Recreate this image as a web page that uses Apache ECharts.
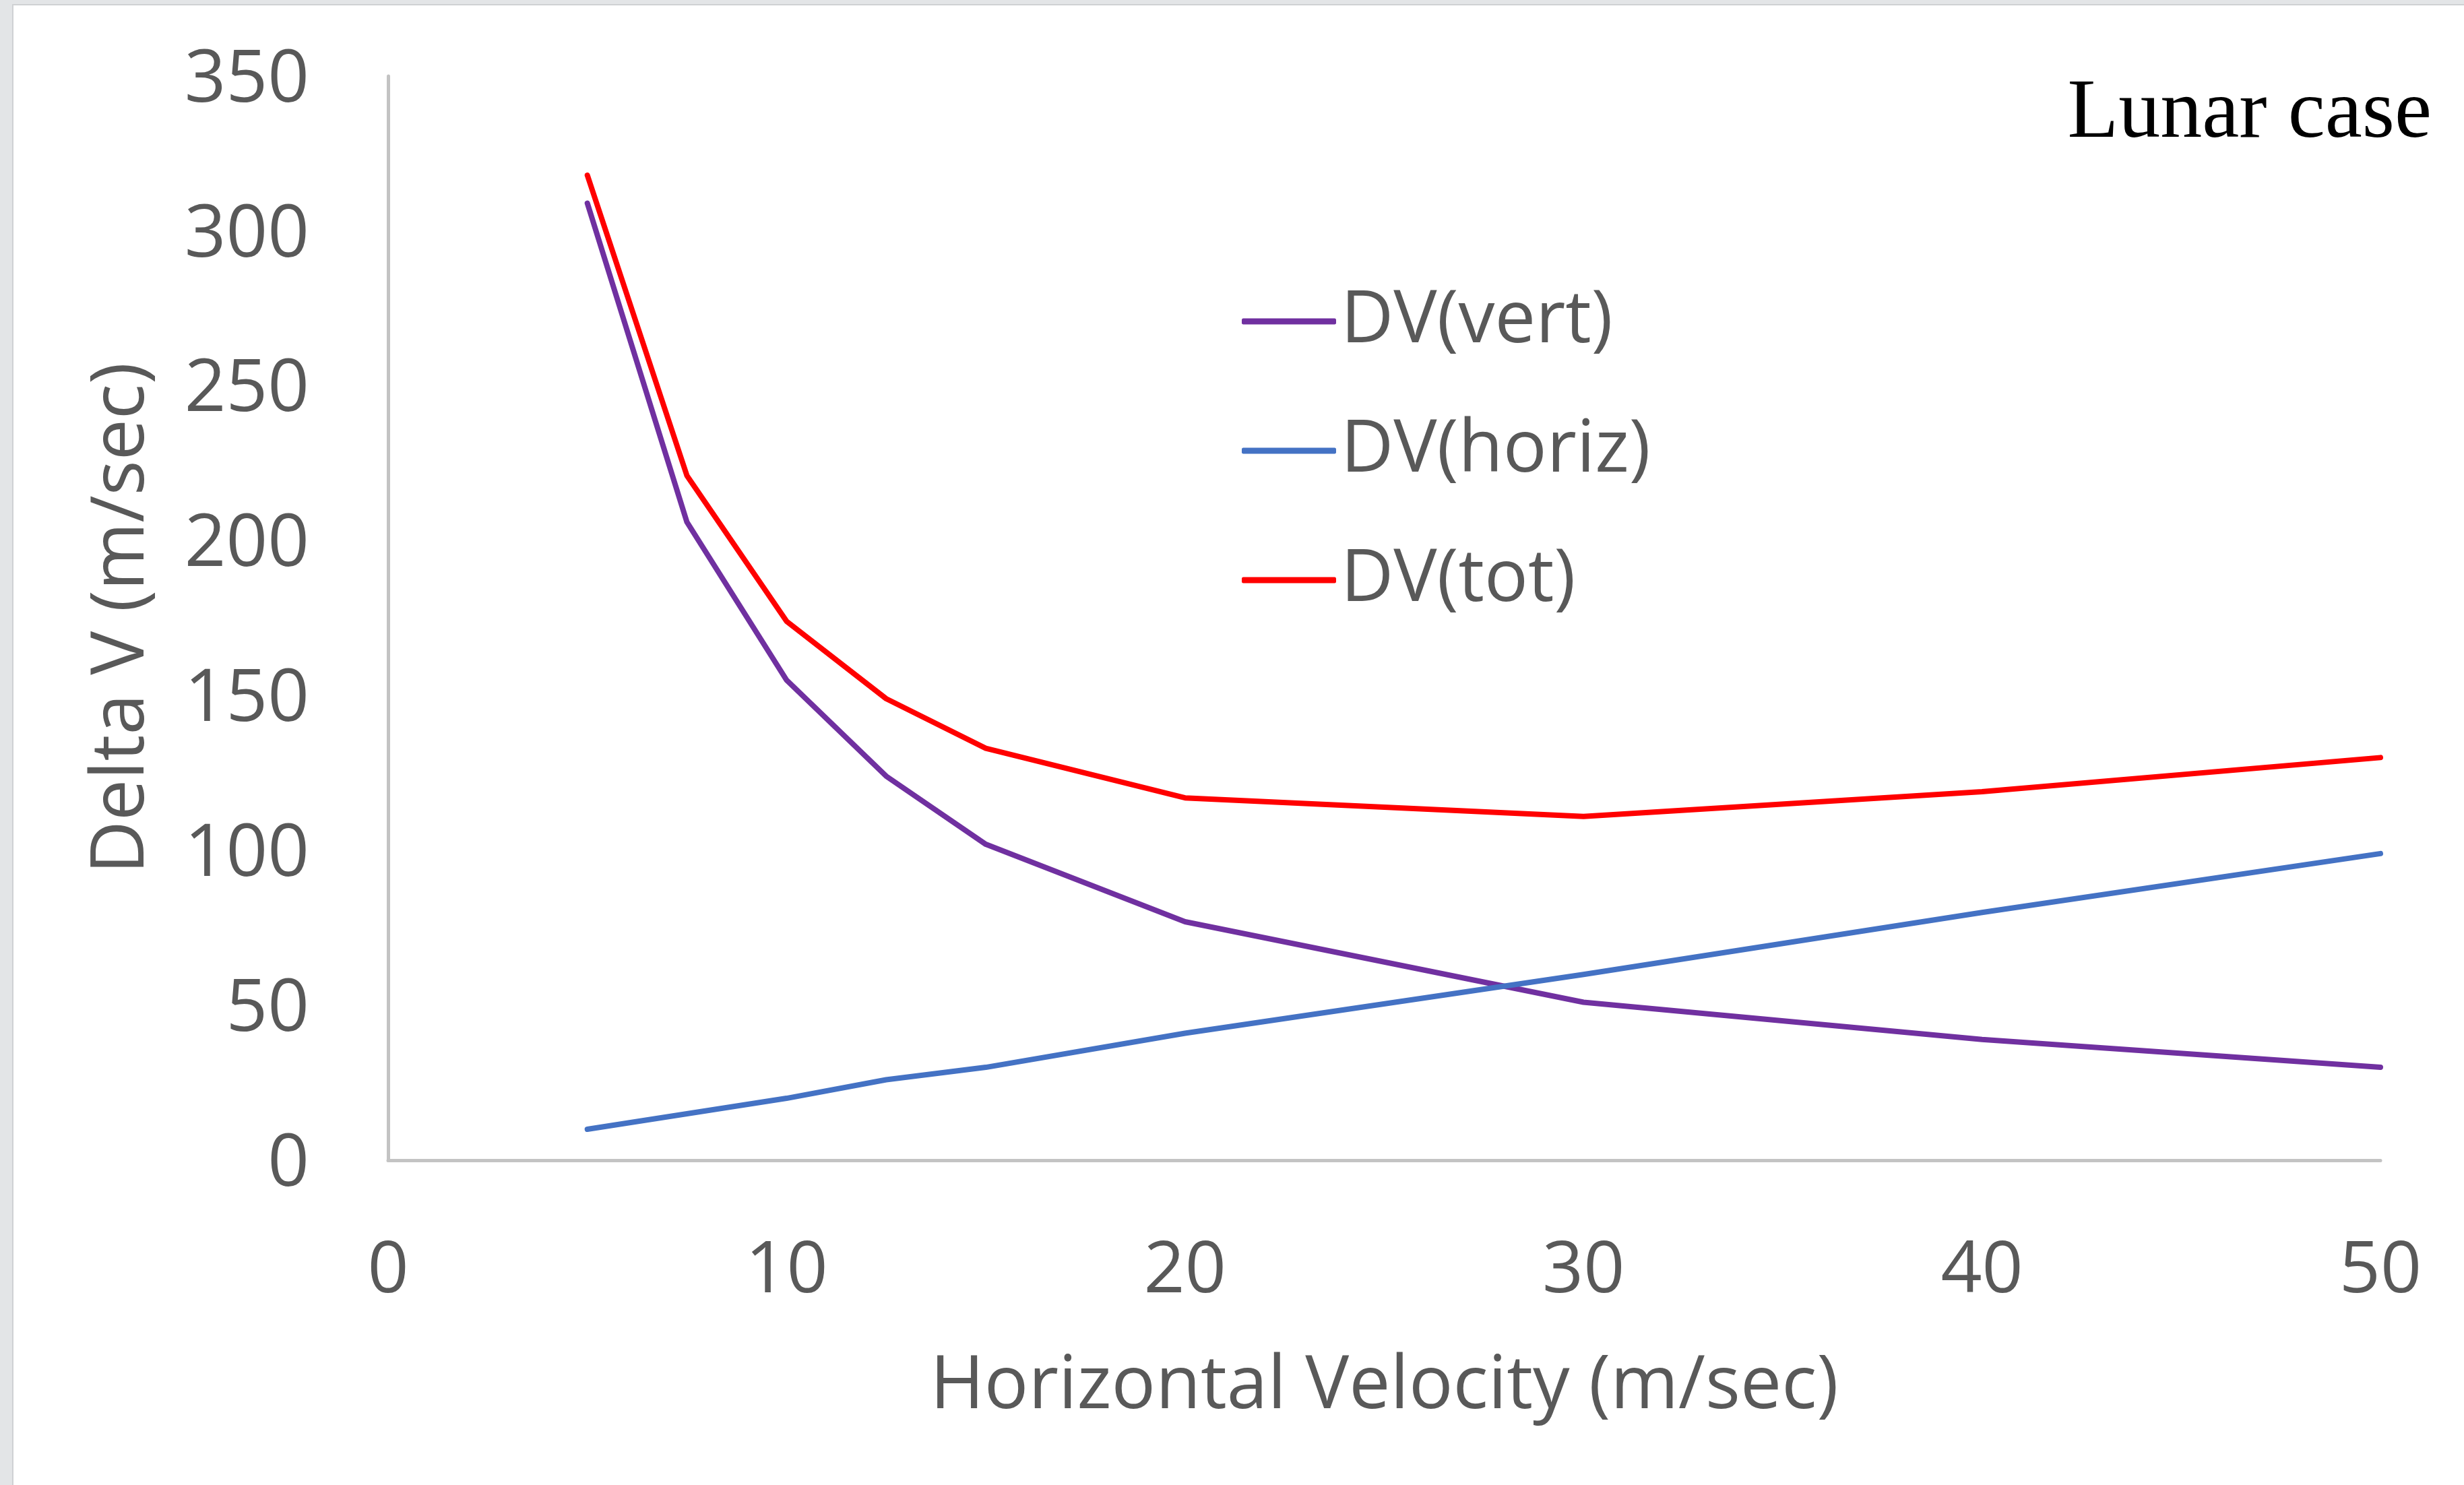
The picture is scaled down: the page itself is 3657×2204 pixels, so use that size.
<!DOCTYPE html>
<html>
<head>
<meta charset="utf-8">
<title>Lunar case</title>
<script src="https://cdn.jsdelivr.net/npm/echarts@6.0.0/dist/echarts.min.js"></script>
<style>
  html, body { margin: 0; padding: 0; }
  body { width: 3657px; height: 2204px; background: #e3e5e7; position: relative; overflow: hidden; }
  .panel { position: absolute; left: 18px; top: 6px; right: -4px; bottom: -4px; background: #fff; border: 2px solid #cfd1d3; }
  #chart { position: absolute; left: 0; top: 0; width: 3657px; height: 2204px; }
</style>
</head>
<body>
<div class="panel"></div>
<div id="chart"></div>
<script>
// horizontal velocity (m/sec)
const hVel = [5, 7.5, 10, 12.5, 15, 20, 30, 40, 50]
// delta V components (m/sec)
const dvVert = [309, 206, 155, 124, 102, 77, 51, 39, 30]
const dvHoriz = [10, 15, 20, 26, 30, 41, 60, 80, 99]
const dvTot = [318, 221, 174, 149, 133, 117, 111, 119, 130]

const seriesNames = ['DV(vert)', 'DV(horiz)', 'DV(tot)']
const seriesColors = ['#7030A0', '#4472C4', '#FF0000']

const textColor = '#595959'
const fontFamily = '"Open Sans", "Noto Sans", sans-serif'

const chart = echarts.init(document.getElementById('chart'))

const pairs = ys => hVel.map((x, i) => [x, ys[i]])

const makeSeries = (name, ys, color) => ({
  name: name,
  type: 'line',
  data: pairs(ys),
  symbol: 'none',
  smooth: false,
  lineStyle: { color: color, width: 8, cap: 'round', join: 'round' },
  itemStyle: { color: color },
  emphasis: { disabled: true }
})

const option = {
  animation: false,
  backgroundColor: 'transparent',
  grid: {
    left: 576,
    right: 124,
    top: 113,
    bottom: 482,
    containLabel: false
  },
  legend: {
    orient: 'vertical',
    left: 1838,
    top: 418,
    icon: 'roundRect',
    itemWidth: 140,
    itemHeight: 9,
    itemGap: 84,
    data: seriesNames,
    textStyle: {
      color: textColor,
      fontSize: 108,
      fontFamily: fontFamily,
      padding: [0, 0, 0, 2]
    }
  },
  xAxis: {
    type: 'value',
    min: 0,
    max: 50,
    interval: 10,
    name: 'Horizontal Velocity (m/sec)',
    nameLocation: 'middle',
    nameGap: 282,
    nameTextStyle: { color: textColor, fontSize: 109, fontFamily: fontFamily },
    axisLine: { show: true, lineStyle: { color: '#c3c3c3', width: 5 } },
    axisTick: { show: false },
    splitLine: { show: false },
    axisLabel: { color: textColor, fontSize: 107, fontFamily: fontFamily, margin: 112 }
  },
  yAxis: {
    type: 'value',
    min: 0,
    max: 350,
    interval: 50,
    name: 'Delta V (m/sec)',
    nameLocation: 'middle',
    nameGap: 340,
    nameRotate: 90,
    nameTextStyle: { color: textColor, fontSize: 109, fontFamily: fontFamily },
    axisLine: { show: true, lineStyle: { color: '#c3c3c3', width: 5 } },
    axisTick: { show: false },
    splitLine: { show: false },
    axisLabel: {
      margin: 117,
      formatter: '{v|{value}}',
      rich: {
        v: { color: textColor, fontSize: 108, fontFamily: fontFamily, padding: [14, 0, 0, 0] }
      }
    }
  },
  graphic: [
    {
      type: 'text',
      right: 3657 - 3609,
      top: 108,
      style: {
        text: 'Lunar case',
        fill: '#000',
        font: '124px "Liberation Serif", "DejaVu Serif", serif'
      }
    }
  ],
  series: [
    makeSeries(seriesNames[0], dvVert, seriesColors[0]),
    makeSeries(seriesNames[1], dvHoriz, seriesColors[1]),
    makeSeries(seriesNames[2], dvTot, seriesColors[2])
  ]
}

chart.setOption(option)

window.addEventListener('resize', () => {
  chart.resize()
})
</script>
</body>
</html>
